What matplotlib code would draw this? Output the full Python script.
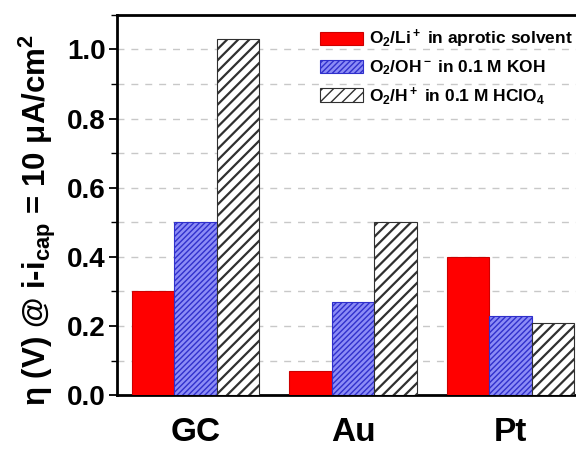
import numpy as np
import matplotlib
matplotlib.use("Agg")
import matplotlib.pyplot as plt
from matplotlib.ticker import MultipleLocator

plt.rcParams['font.family'] = ['Liberation Sans', 'DejaVu Sans']
plt.rcParams['font.weight'] = 'bold'
plt.rcParams['mathtext.fontset'] = 'custom'
plt.rcParams['mathtext.bf'] = 'Liberation Sans:bold'
plt.rcParams['mathtext.rm'] = 'Liberation Sans:bold'
plt.rcParams['mathtext.it'] = 'Liberation Sans:bold'
plt.rcParams['mathtext.default'] = 'bf'

# overpotential at i - i_cap = 10 uA/cm2 for each electrode
electrodes = ['GC', 'Au', 'Pt']
li_aprotic = [0.30, 0.07, 0.40]
oh_koh = [0.50, 0.27, 0.23]
h_hclo4 = [1.03, 0.50, 0.21]
series_labels = ['O$_2$/Li$^+$ in aprotic solvent',
                 'O$_2$/OH$^-$ in 0.1 M KOH',
                 'O$_2$/H$^+$ in 0.1 M HClO$_4$']

fig = plt.figure(figsize=(5.76, 4.49), dpi=100)
ax = fig.add_axes([0.203, 0.120, 0.82, 0.847])

x = np.arange(len(electrodes))
w = 0.27
ax.bar(x - w, li_aprotic, w, color='#ff0000', edgecolor='#cc0000',
       linewidth=0.8, label=series_labels[0], zorder=3)
with plt.rc_context({'hatch.linewidth': 1.0}):
    ax.bar(x, oh_koh, w, color='#8c8cf6', edgecolor='#3030cc', hatch='//////',
           linewidth=0.8, label=series_labels[1], zorder=3)
with plt.rc_context({'hatch.linewidth': 1.6}):
    ax.bar(x + w, h_hclo4, w, color='white', edgecolor='#303030', hatch='///',
           linewidth=0.8, label=series_labels[2], zorder=3)

ax.set_xlim(-0.5, 2.5)
ax.set_ylim(0, 1.1)
ax.set_xticks(x)
ax.set_xticklabels(electrodes, fontsize=24, fontweight='bold')
ax.tick_params(axis='x', length=0, pad=16)
ax.yaxis.set_minor_locator(MultipleLocator(0.1))
ax.set_yticks(np.arange(0, 1.01, 0.2))
ax.set_yticklabels([f'{v:.1f}' for v in np.arange(0, 1.01, 0.2)],
                   fontsize=20, fontweight='bold')
ax.tick_params(axis='y', which='major', direction='out', length=6, width=1.3, pad=2)
ax.tick_params(axis='y', which='minor', direction='out', length=4, width=1.0)
ax.grid(axis='y', which='both', linestyle=(0, (5, 5)), color='#c8c8c8',
        linewidth=1.0, zorder=0)
for s in ax.spines.values():
    s.set_linewidth(2.0)

ax.set_ylabel('η (V) @ i-i$_{cap}$ = 10 μA/cm$^2$', fontsize=22.5,
              fontweight='bold')
ax.yaxis.set_label_coords(-0.125, 0.46)

ax.legend(loc='upper left', bbox_to_anchor=(0.43, 0.965), frameon=False,
          prop={'size': 12.5, 'weight': 'bold'}, handlelength=2.5,
          handleheight=0.8, labelspacing=0.45, handletextpad=0.3,
          borderaxespad=0, borderpad=0)

fig.savefig('out.png', dpi=100)
